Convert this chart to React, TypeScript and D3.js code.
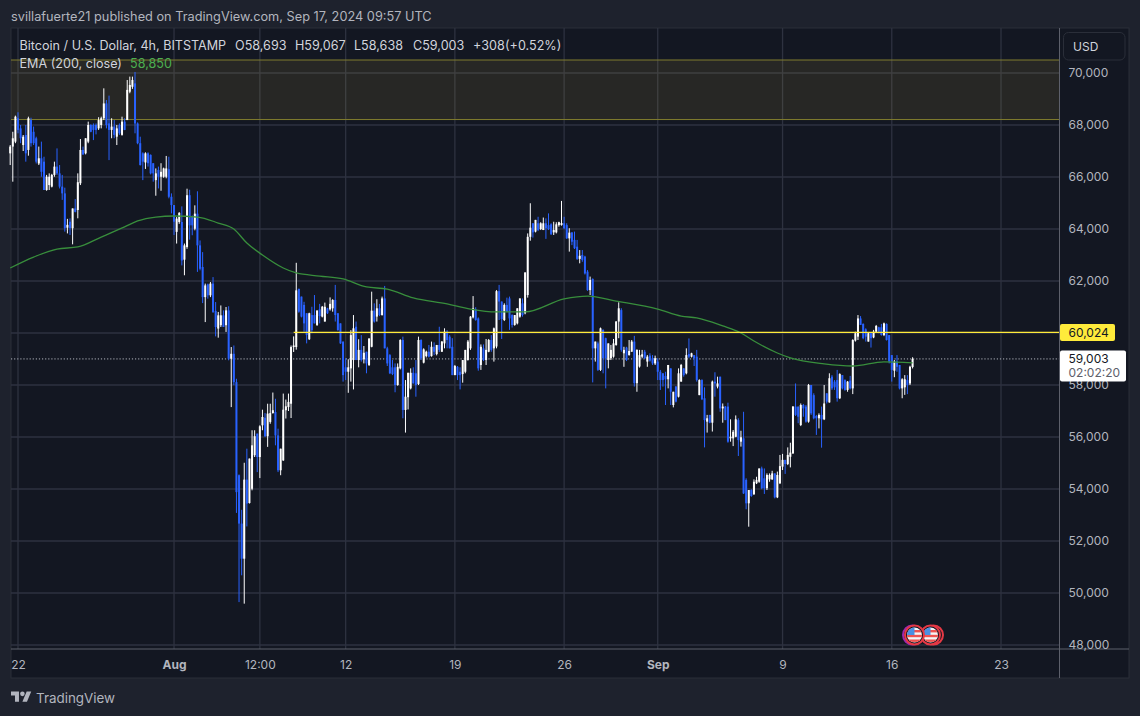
import { useEffect, useRef } from "react";
import { axisBottom, axisRight, curveMonotoneX, format, line, scaleLinear, scaleUtc, select } from "d3";

const WIDTH = 1140;
const HEIGHT = 716;
const PANE = { left: 11, top: 28, right: 1129, bottom: 678, axisX: 1059.5, axisY: 649 };
const FONT = "Inter, 'Noto Sans', sans-serif";

const START_TIME = Date.UTC(2024, 6, 21, 12);
const BAR_MS = 4 * 3600 * 1000;

const priceTicks = [70000, 68000, 66000, 64000, 62000, 60000, 58000, 56000, 54000, 52000, 50000, 48000];
const gridPrices = priceTicks;
const timeTicks = ["2024-07-22", "2024-08-01", "2024-08-06T12:00Z", "2024-08-12", "2024-08-19", "2024-08-26", "2024-09-01", "2024-09-09", "2024-09-16", "2024-09-23"];
const timeLabels = ["22", "Aug", "12:00", "12", "19", "26", "Sep", "9", "16", "23"];
const boldLabels = ["Aug", "Sep"];

const zonePrices = [70500, 68210];
const levelPrice = 60024;
const lastPrice = 59003;

// 4h candles, Jul 21 12:00 to Sep 17 08:00
const opens = [
  66910, 67170, 67360, 68260, 67870, 67230, 67615, 67040, 68190, 67740,
  67490, 66520, 66720, 66590, 65500, 65690, 65630, 66080, 66400, 66140,
  65630, 65370, 64050, 64280, 64030, 64790, 64730, 65760, 67040, 66910,
  67360, 68000, 68000, 68000, 67870, 68000, 68260, 68830, 68060, 67810,
  67940, 67550, 68000, 67620, 68130, 68190, 69280, 69470, 69600, 68060,
  67300, 66910, 66560, 66910, 66850, 66530, 65880, 66270, 66010, 66010,
  66010, 66300, 65240, 64920, 63890, 64270, 64270, 62820, 63310, 65300,
  64460, 64010, 64590, 63370, 62540, 61380, 61870, 61450, 61900, 60850,
  60170, 60300, 60680, 60300, 60870, 59010, 59200, 58110, 54530, 52670,
  51320, 54360, 53460, 54010, 55300, 56130, 55230, 56450, 56740, 56030,
  56580, 56920, 56960, 56060, 54720, 55100, 57030, 57150, 57280, 59460,
  59460, 61700, 61400, 61080, 60760, 59760, 60690, 60690, 60310, 60910,
  60630, 60440, 60950, 60910, 60950, 61270, 60760, 60370, 59670, 58680,
  58510, 58640, 58960, 60240, 58960, 59350, 58990, 59280, 58770, 59470,
  60860, 60630, 60950, 60690, 61330, 59410, 59150, 58680, 58680, 58000,
  58640, 59730, 57040, 57530, 57870, 58470, 58450, 58040, 59730, 58860,
  59110, 59280, 59110, 59470, 59190, 59540, 59280, 59600, 60050, 59860,
  59470, 58380, 58700, 58510, 58420, 58510, 58960, 59410, 60600, 60910,
  60560, 58770, 59410, 58960, 59280, 59730, 59410, 59480, 61610, 61210,
  60500, 61080, 61330, 60690, 60310, 60370, 60630, 61140, 60760, 61460,
  63700, 64220, 63900, 64220, 64000, 63960, 64220, 64150, 64180, 63870,
  63870, 64150, 64150, 64220, 64150, 63640, 63870, 63580, 63320, 62850,
  63000, 62940, 62360, 61650, 62080, 59410, 59600, 58580, 60120, 59800,
  58960, 59030, 59090, 59540, 60440, 60880, 59220, 59440, 59150, 59280,
  59670, 58070, 58710, 59090, 59280, 58900, 59130, 59030, 58830, 58900,
  58510, 58450, 58350, 58220, 58640, 57230, 57940, 57550, 58130, 58640,
  58450, 59190, 59090, 59150, 59090, 57610, 58190, 57490, 56590, 56850,
  56550, 58130, 57940, 58320, 57100, 57170, 57170, 55950, 55950, 56010,
  56650, 55820, 55950, 54350, 53450, 53960, 53800, 54220, 54280, 54790,
  54410, 54030, 54370, 54370, 54600, 53680, 54220, 54860, 55120, 54960,
  55240, 55370, 57170, 57170, 56460, 57230, 57170, 56590, 58000, 57610,
  56810, 56720, 56850, 56680, 57680, 57330, 58320, 58130, 58190, 57490,
  58380, 58190, 57810, 58170, 57870, 59710, 59860, 60560, 60350, 60140,
  59670, 59990, 59830, 60050, 60220, 60220, 59920, 60350, 59920, 59150,
  58550, 58900, 58770, 57870, 57910, 58190, 58060, 58693,
];
const closes = [
  67170, 67490, 68320, 67810, 67490, 67550, 66910, 68260, 67300, 67300,
  66590, 66720, 66200, 65500, 66010, 66010, 66080, 66400, 66140, 65630,
  65370, 64030, 64160, 64030, 64790, 64660, 65800, 67040, 66870, 67490,
  68000, 67740, 67810, 67810, 68190, 68260, 68830, 68000, 67810, 67940,
  67620, 67870, 67680, 68130, 67810, 69350, 69540, 69730, 68060, 67300,
  66460, 66590, 66910, 66530, 66140, 66140, 66140, 66010, 66200, 66330,
  66330, 65240, 64920, 64280, 64400, 64620, 62790, 63370, 65300, 64140,
  64140, 64590, 63370, 62470, 61380, 61830, 61450, 61900, 60810, 60230,
  60680, 60680, 60230, 60870, 59010, 59200, 58110, 53880, 52670, 51320,
  54360, 53440, 55170, 55680, 56030, 55230, 56410, 56770, 56030, 56900,
  56920, 57030, 56060, 54720, 55550, 57050, 57180, 57350, 59460, 59520,
  61640, 60820, 60630, 60370, 59920, 60760, 60110, 60370, 60860, 60650,
  61010, 61010, 60760, 61120, 61270, 60690, 60110, 59600, 58380, 58510,
  58680, 59920, 60180, 58960, 59350, 58960, 59240, 58830, 59790, 60860,
  60440, 60950, 60690, 61330, 59410, 58830, 58450, 58420, 58000, 58700,
  59730, 57040, 57550, 58470, 58470, 58060, 58000, 59730, 59030, 59370,
  59280, 59090, 59470, 59280, 59540, 59350, 59670, 60050, 59730, 59410,
  58380, 58730, 58380, 58380, 58960, 59350, 59670, 60630, 60950, 60500,
  58640, 59470, 58960, 59350, 59730, 59350, 60180, 61610, 61210, 60540,
  61080, 60820, 60560, 60310, 60690, 60950, 61330, 60690, 62330, 63700,
  64050, 63870, 64350, 63960, 64220, 64220, 64030, 64000, 63800, 63960,
  64180, 64260, 64230, 64030, 63640, 63860, 63510, 63260, 62850, 62970,
  62810, 62290, 61650, 62040, 59410, 59670, 58580, 60180, 59030, 59030,
  59600, 59350, 59600, 60440, 60950, 59350, 59350, 58960, 59310, 59670,
  58070, 59350, 59150, 59180, 59030, 59090, 58940, 58830, 59030, 58510,
  58190, 58190, 58220, 58770, 57740, 57740, 57360, 58450, 58770, 58380,
  59150, 59090, 59220, 59030, 58190, 58190, 57450, 56650, 56720, 56550,
  58130, 58060, 58060, 57100, 57170, 56650, 55820, 56010, 56200, 56680,
  55880, 55990, 53830, 53450, 53960, 53730, 54280, 54350, 54790, 54030,
  54030, 54540, 54540, 54600, 53680, 54540, 54880, 55120, 54960, 55310,
  55400, 57170, 56850, 56780, 57230, 57100, 56590, 58000, 56910, 56720,
  56720, 56850, 56680, 57290, 57360, 58260, 57870, 57910, 57490, 58420,
  57870, 57810, 58130, 57870, 59730, 59990, 60560, 60310, 59800, 59860,
  59990, 59800, 60050, 60270, 60050, 59920, 60370, 59730, 58900, 58580,
  58900, 58700, 57870, 58220, 58220, 58000, 58700, 59003,
];
const highs = [
  67230, 67740, 68360, 68490, 68000, 67615, 68000, 68320, 68280, 67940,
  67550, 67170, 67360, 66780, 66080, 66140, 66120, 66590, 67100, 66460,
  66080, 65590, 64390, 64410, 64790, 65150, 66140, 67460, 67170, 67490,
  68130, 68030, 68060, 68060, 68300, 68320, 69410, 68960, 69130, 68260,
  68190, 68000, 68060, 68320, 68260, 69730, 69860, 69860, 70040, 68100,
  67550, 66950, 66950, 66950, 66870, 66530, 66330, 66400, 66530, 66360,
  66810, 66780, 65370, 64920, 64460, 64650, 64870, 63440, 65550, 65510,
  64520, 64910, 65450, 63560, 63110, 61900, 61900, 61960, 62150, 61190,
  60810, 61060, 60870, 61000, 61030, 59460, 59520, 58240, 54560, 53200,
  55010, 55550, 55170, 56260, 56260, 56130, 56450, 57050, 56920, 57280,
  57280, 57710, 57470, 56320, 55550, 57670, 57440, 57670, 59520, 59870,
  62700, 61700, 61400, 61200, 60760, 60780, 61010, 61460, 60880, 61120,
  61040, 61170, 60970, 61370, 61300, 61850, 60760, 60370, 59670, 59030,
  58990, 60110, 60690, 60440, 59760, 59920, 59500, 59280, 59790, 61590,
  61140, 61300, 61120, 61400, 61810, 59470, 59190, 58960, 58830, 58830,
  59760, 59860, 58190, 58470, 58640, 58680, 58960, 59860, 59760, 59410,
  59320, 59540, 59670, 59640, 59540, 60240, 59690, 60180, 60110, 59920,
  59800, 58770, 58730, 58680, 58960, 59350, 59730, 60650, 61420, 60990,
  60600, 59560, 59560, 59770, 59770, 59920, 60210, 61650, 61850, 61210,
  61140, 61360, 61400, 60720, 60690, 60950, 61330, 61330, 62330, 63830,
  64990, 64220, 64350, 64470, 64260, 64440, 64410, 64600, 64220, 64280,
  64260, 64280, 65080, 64470, 64220, 64030, 63870, 63900, 63580, 63190,
  63190, 62970, 62420, 62170, 62100, 59670, 59670, 60210, 60140, 59820,
  59600, 59540, 59770, 60460, 61180, 60950, 59470, 59470, 59730, 59730,
  59890, 59370, 59350, 59350, 59350, 59150, 59220, 59150, 59130, 59030,
  58580, 58450, 58510, 58770, 58640, 57740, 57960, 58640, 58810, 58640,
  59410, 59790, 59240, 59150, 59350, 58220, 58220, 57910, 56850, 56850,
  58170, 58490, 58320, 58320, 57290, 57190, 57320, 56680, 56270, 56830,
  56720, 56240, 56970, 54410, 53960, 53990, 54370, 54470, 54790, 54860,
  54790, 54600, 54600, 54700, 54600, 54670, 55310, 55350, 55120, 55600,
  55780, 57190, 58060, 57170, 57290, 57270, 57230, 58040, 58000, 57680,
  56850, 56910, 57170, 58000, 57680, 58450, 58380, 58190, 58580, 58450,
  58380, 58220, 58150, 58350, 59760, 60050, 60690, 60650, 60370, 60180,
  60010, 60010, 60120, 60310, 60240, 60350, 60400, 60370, 59920, 59150,
  58960, 59150, 58770, 58260, 58380, 58380, 58740, 59067,
];
const lows = [
  66460, 65820, 67300, 67680, 67300, 67000, 66590, 66820, 67170, 67230,
  66520, 66460, 66010, 65500, 65470, 65500, 65600, 66010, 66080, 65560,
  65120, 63900, 63830, 63770, 63410, 64640, 64410, 65690, 66850, 66870,
  67300, 67720, 67420, 67640, 67810, 67870, 68190, 67870, 66650, 67490,
  67490, 67230, 67620, 67590, 67800, 68190, 69220, 69390, 67680, 67260,
  66440, 65880, 66310, 66400, 66100, 65820, 65280, 65560, 65470, 65970,
  65950, 65180, 64600, 63770, 63440, 64200, 62600, 62220, 63240, 63590,
  63760, 63950, 62350, 62410, 61150, 60420, 61320, 61380, 60770, 59870,
  59820, 60230, 60230, 60040, 58950, 57150, 57990, 53080, 49650, 50680,
  49590, 52560, 53440, 53950, 55230, 54650, 54420, 56260, 56000, 55620,
  56510, 56900, 55680, 54650, 54530, 55080, 56710, 57000, 56730, 59270,
  59360, 60780, 60600, 60050, 59600, 59730, 59990, 60370, 60270, 60370,
  60600, 60440, 60730, 60860, 60820, 60440, 60090, 59580, 58130, 58190,
  57700, 58130, 57830, 58960, 58680, 58900, 58830, 58450, 58730, 59450,
  60400, 60440, 60650, 60670, 59410, 58730, 58420, 58380, 57720, 57970,
  58600, 56720, 56170, 57060, 57830, 58060, 57550, 58000, 58960, 58830,
  59060, 59060, 59090, 59150, 59140, 59270, 59270, 59410, 59410, 59410,
  58380, 58380, 58190, 57830, 58090, 58450, 58940, 59350, 60560, 60470,
  58550, 58580, 58920, 58770, 59260, 59280, 58900, 59410, 60500, 59770,
  60460, 60800, 60120, 60210, 60280, 60330, 60590, 60630, 60720, 61360,
  63550, 63670, 63870, 63920, 63960, 63960, 63620, 63960, 63770, 63770,
  63830, 64090, 64130, 63990, 63620, 63130, 63380, 63230, 62810, 62680,
  62740, 62250, 61620, 61460, 58100, 58900, 58540, 58540, 58450, 57870,
  58640, 58960, 59050, 59510, 59800, 59280, 58700, 58920, 59130, 59280,
  57940, 57740, 58670, 59030, 59000, 58700, 58900, 58770, 58770, 58190,
  57810, 57940, 57230, 57870, 57230, 57140, 57330, 57520, 58130, 58320,
  58410, 59030, 59060, 58730, 58130, 57610, 57420, 55600, 56170, 56530,
  56210, 57550, 57870, 56970, 56550, 56650, 55780, 55820, 55650, 55990,
  55270, 55630, 53810, 53220, 52550, 53700, 53770, 54190, 54240, 53990,
  53810, 53960, 54280, 54350, 53640, 53650, 54190, 54730, 54580, 54920,
  54830, 55350, 56810, 56530, 56420, 56780, 56550, 56550, 56850, 56680,
  56080, 56330, 55590, 56650, 57290, 57320, 57810, 57810, 57360, 57460,
  57830, 57780, 57740, 57830, 57650, 59670, 59730, 60310, 59760, 59670,
  59670, 59440, 59800, 60010, 59990, 59900, 59880, 59710, 58830, 58130,
  58300, 58510, 57830, 57490, 57620, 57650, 58000, 58638,
];

// EMA(200) read at these bars
const emaBars = [0, 9, 18, 26, 35, 44, 49, 56, 63, 72, 80, 86, 91, 97, 105, 110, 119, 128, 137, 145, 155, 168, 177, 187, 198, 213, 222, 233, 249, 258, 264, 274, 281, 286, 295, 300, 313, 324, 336, 347];
const emaValues = [62500, 62920, 63230, 63310, 63690, 64080, 64310, 64460, 64500, 64460, 64230, 64000, 63460, 63000, 62500, 62310, 62190, 62080, 61770, 61690, 61350, 61120, 60920, 60810, 60810, 61310, 61420, 61230, 60920, 60650, 60580, 60270, 60000, 59690, 59230, 59040, 58810, 58730, 58890, 58850];

const barTime = (i: number) => new Date(START_TIME + i * BAR_MS);

const x = scaleUtc()
  .domain([new Date("2024-07-22"), new Date("2024-09-23")])
  .range([18, 1001]);
const y = scaleLinear().domain([48000, 70000]).range([645, 73]);

const tickDates = timeTicks.map((t) => new Date(t));

const emaPath = line<number>()
  .x((b) => x(barTime(b)))
  .y((_, i) => y(emaValues[i]))
  .curve(curveMonotoneX);

function Flag({ cx, cy, ring, id }: { cx: number; cy: number; ring: string; id: string }) {
  return (
    <g>
      <circle cx={cx} cy={cy} r={9.5} fill="#131722" stroke={ring} strokeWidth={2} />
      <clipPath id={id}>
        <circle cx={cx} cy={cy} r={7.5} />
      </clipPath>
      <g clipPath={`url(#${id})`}>
        <rect x={cx - 8} y={cy - 8} width={16} height={16} fill="#f5f5f5" />
        <rect x={cx - 8} y={cy - 5} width={16} height={2.4} fill="#ef5350" />
        <rect x={cx - 8} y={cy - 0.2} width={16} height={2.4} fill="#ef5350" />
        <rect x={cx - 8} y={cy + 4.5} width={16} height={2.4} fill="#ef5350" />
        <rect x={cx - 8} y={cy - 8} width={8} height={8} fill="#4a90e2" />
      </g>
    </g>
  );
}

export default function App() {
  const yAxisRef = useRef<SVGGElement>(null);
  const xAxisRef = useRef<SVGGElement>(null);

  useEffect(() => {
    if (yAxisRef.current) {
      const g = select(yAxisRef.current);
      g.call(axisRight(y).tickValues(priceTicks).tickFormat(format(",") as any).tickSize(0).tickPadding(9));
      g.select(".domain").remove();
      g.selectAll("text").attr("fill", "#b2b5be").attr("font-size", 12).attr("font-family", FONT);
    }
    if (xAxisRef.current) {
      const g = select(xAxisRef.current);
      g.call(
        axisBottom(x)
          .tickValues(tickDates)
          .tickFormat((_, i) => timeLabels[i])
          .tickSize(0)
          .tickPadding(11)
      );
      g.select(".domain").remove();
      g.selectAll("text")
        .attr("fill", "#b2b5be")
        .attr("font-size", 12)
        .attr("font-family", FONT)
        .attr("font-weight", (_, i) => (boldLabels.includes(timeLabels[i]) ? 700 : 400));
    }
  }, []);

  return (
    <svg
      width={WIDTH}
      height={HEIGHT}
      style={{ position: "absolute", left: 0, top: 0, display: "block" }}
      fontFamily={FONT}
    >
      <rect width={WIDTH} height={HEIGHT} fill="#1e222d" />
      <text x={11} y={21} fontSize={12.75} fill="#b2b5be">
        svillafuerte21 published on TradingView.com, Sep 17, 2024 09:57 UTC
      </text>
      <rect
        x={PANE.left}
        y={PANE.top}
        width={PANE.right - PANE.left}
        height={PANE.bottom - PANE.top}
        fill="#131722"
        stroke="#2a2e39"
      />

      {gridPrices.map((p) => (
        <line key={p} x1={PANE.left} x2={PANE.axisX} y1={y(p)} y2={y(p)} stroke="#2e3240" strokeWidth={1.3} />
      ))}
      {tickDates.map((d, i) => (
        <line key={i} x1={x(d)} x2={x(d)} y1={PANE.top} y2={PANE.axisY} stroke="#2e3240" strokeWidth={1.3} />
      ))}

      <rect
        x={PANE.left}
        y={y(zonePrices[0])}
        width={PANE.axisX - PANE.left}
        height={y(zonePrices[1]) - y(zonePrices[0])}
        fill="#f5d44a"
        fillOpacity={0.09}
      />
      {zonePrices.map((p) => (
        <line key={p} x1={PANE.left} x2={PANE.axisX} y1={y(p)} y2={y(p)} stroke="#807c2e" strokeWidth={1} />
      ))}

      <line
        x1={PANE.left}
        x2={PANE.axisX}
        y1={y(lastPrice)}
        y2={y(lastPrice)}
        stroke="#b2b5be"
        strokeWidth={1}
        strokeDasharray="1.2 1.9"
      />

      {opens.map((o, i) => {
        const c = closes[i];
        const up = c >= o;
        const color = up ? "#ffffff" : "#2962ff";
        const cx = x(barTime(i));
        return (
          <g key={i}>
            <line x1={cx} x2={cx} y1={y(highs[i])} y2={y(lows[i])} stroke={color} strokeWidth={1} />
            <rect
              x={cx - 1}
              y={y(Math.max(o, c))}
              width={2}
              height={Math.max(1, Math.abs(y(o) - y(c)))}
              fill={color}
            />
          </g>
        );
      })}

      <path d={emaPath(emaBars) ?? undefined} fill="none" stroke="#388e3c" strokeWidth={1.3} />

      <line x1={x(barTime(109))} x2={PANE.axisX} y1={y(levelPrice)} y2={y(levelPrice)} stroke="#ffeb3b" strokeWidth={1.2} />

      <line x1={PANE.axisX} x2={PANE.axisX} y1={PANE.top} y2={PANE.bottom} stroke="#5d606b" />
      <line x1={PANE.left} x2={PANE.right} y1={PANE.axisY} y2={PANE.axisY} stroke="#5d606b" />

      <circle cx={912.5} cy={635} r={9.5} fill="none" stroke="#9c27b0" strokeWidth={2} />
      <circle cx={933.5} cy={635} r={9.5} fill="none" stroke="#e53945" strokeWidth={2} />
      <Flag cx={930.5} cy={635} ring="#e53945" id="flag-b" />
      <Flag cx={914.5} cy={635} ring="#e53945" id="flag-a" />

      <g fontSize={12.6} fill="#d1d4dc">
        <text x={19.5} y={50}>Bitcoin / U.S. Dollar, 4h, BITSTAMP</text>
        <text x={235} y={50}>O58,693</text>
        <text x={295} y={50}>H59,067</text>
        <text x={354} y={50}>L58,638</text>
        <text x={413} y={50}>C59,003</text>
        <text x={473} y={50}>+308</text>
        <text x={505} y={50}>(+0.52%)</text>
        <text x={19.5} y={68}>EMA (200, close)</text>
        <text x={130} y={68} fill="#4caf50">58,850</text>
      </g>

      <rect x={1063.5} y={32.5} width={61.5} height={27.5} rx={5} fill="#131722" stroke="#2a2e39" />
      <text x={1073} y={50.5} fontSize={12} fill="#d1d4dc">USD</text>

      <g ref={yAxisRef} transform={`translate(${PANE.axisX}, 0)`} />
      <g ref={xAxisRef} transform={`translate(0, ${PANE.axisY})`} />

      <rect x={1060} y={324} width={55} height={17} rx={2} fill="#ffeb3b" />
      <text x={1068.5} y={336.5} fontSize={12} fill="#131722">{format(",")(levelPrice)}</text>
      <rect x={1060} y={350.5} width={66} height={31} rx={2} fill="#ffffff" />
      <text x={1068.5} y={362.5} fontSize={12} fill="#131722">{format(",")(lastPrice)}</text>
      <text x={1068.5} y={376.5} fontSize={12} fill="#5d606b">02:02:20</text>

      <g transform="translate(11, 691) scale(0.57)" fill="#b2b5be">
        <path d="M14 19H7V8H0V1h14v18zM28 19h-8l7.5-18h8L28 19z" />
        <circle cx={20} cy={5} r={4} />
      </g>
      <text x={36} y={702.5} fontSize={13.4} fill="#b2b5be">TradingView</text>
    </svg>
  );
}
